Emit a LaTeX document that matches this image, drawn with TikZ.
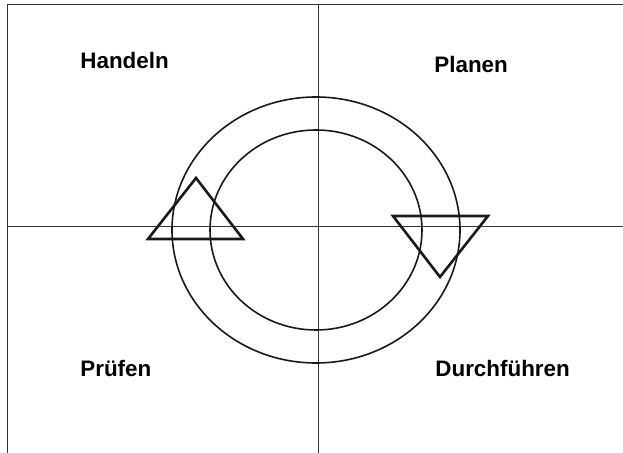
\documentclass[tikz,border=0pt]{standalone}
\usepackage{fontspec}
\setmainfont{Liberation Sans}
\usepackage{tikz}
\usetikzlibrary{calc, positioning}

\begin{document}
\begin{tikzpicture}[x=0.5pt, y=-0.5pt, >=latex]
    \useasboundingbox (0,0) rectangle (623,453);
    \tikzset{
        phase/.style={inner sep=0pt, anchor=west, font=\fontsize{11.2}{13}\selectfont\bfseries},
        arrowhead/.style={line width=1.3pt, line join=miter, black!90}
    }
    % 1. Achsenkreuz und Rahmen
    \coordinate (tl) at (8,5);
    \coordinate (tr) at (623,5);
    \coordinate (bl) at (8,453);
    \coordinate (mt) at (318,5);
    \coordinate (mb) at (318,453);
    \coordinate (ml) at (8,227);
    \coordinate (mr) at (623,227);
    \draw[black!80, line width=0.5pt] (bl) -- (tl) -- (tr);
    \draw[black!80, line width=0.5pt] (mt) -- (mb);
    \draw[black!80, line width=0.5pt] (ml) -- (mr);

    % 2. Kreisring
    \coordinate (c) at (316,230);
    \draw[black!90, line width=0.8pt] (c) ellipse [x radius=144, y radius=133];
    \draw[black!90, line width=0.8pt] (c) ellipse [x radius=106, y radius=100];

    % 3. Pfeilspitzen
    \draw[arrowhead] (148,239) -- (243,239) -- (196,178) -- cycle;
    \draw[arrowhead] (393,216) -- (488,216) -- (440,277) -- cycle;

    % 4. Beschriftung
    \node[phase] (handeln) at (80,61) {Handeln};
    \node[phase] (planen) at (434,65) {Planen};
    \node[phase] (pruefen) at (80,369) {Prüfen};
    \node[phase] (durch) at (435,369) {Durchführen};
\end{tikzpicture}
\end{document}
